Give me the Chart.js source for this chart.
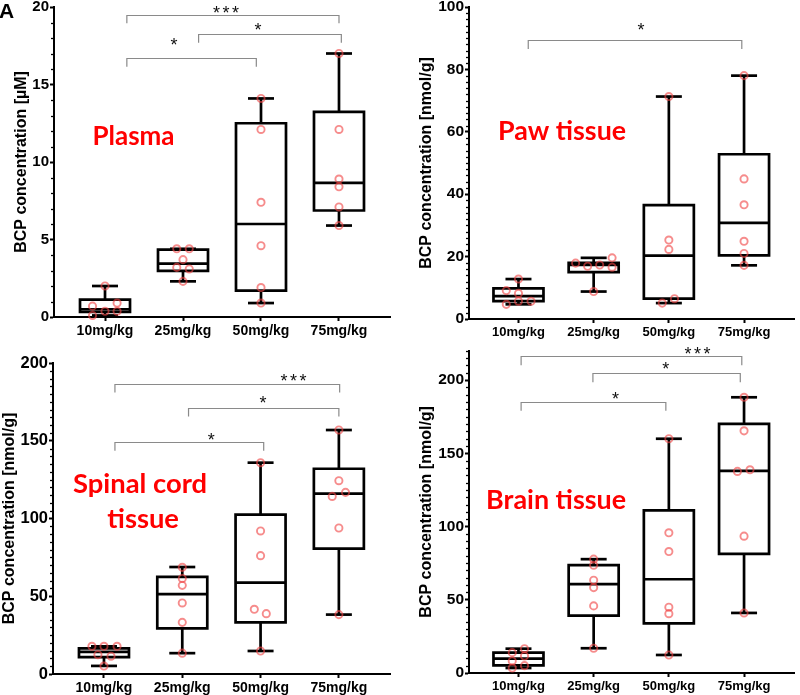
<!DOCTYPE html>
<html><head><meta charset="utf-8">
<script src="https://cdn.jsdelivr.net/npm/chart.js@4.4.0/dist/chart.umd.min.js"></script>
<style>
html,body{margin:0;padding:0;background:#fff;}
body{width:800px;height:695px;position:relative;overflow:hidden;}
canvas{position:absolute;display:block;}
</style></head><body>
<canvas id="cA" width="400" height="340" style="left:0;top:0"></canvas>
<canvas id="cB" width="400" height="340" style="left:400px;top:0"></canvas>
<canvas id="cC" width="400" height="355" style="left:0;top:340px"></canvas>
<canvas id="cD" width="400" height="355" style="left:400px;top:340px"></canvas>
<script>
// ---------------- DATA ----------------
const categories = ['10mg/kg', '25mg/kg', '50mg/kg', '75mg/kg'];

// box statistics per category: [min, Q1, median, Q3, max]
const plasmaBoxes = [[0.1,0.33,0.5,1.12,2.0],[2.3,2.97,3.44,4.35,4.4],[0.9,1.7,6.0,12.5,14.1],[5.9,6.87,8.65,13.24,17.0]];
const pawBoxes    = [[4.7,5.7,7.3,9.8,12.8],[8.8,15.0,17.3,18.0,19.6],[5.1,6.5,20.3,36.5,71.3],[17.2,20.4,30.8,52.8,78.0]];
const spinalBoxes = [[5.2,10.8,14.2,16.5,17.8],[13.4,29.3,51.4,62.5,68.8],[14.8,33.2,58.8,102.5,135.9],[38.2,80.6,116.0,132.0,156.9]];
const brainBoxes  = [[3.4,5.2,9.8,13.9,16.6],[16.9,39.2,60.6,73.6,77.7],[12.3,33.9,64.0,111.0,159.9],[41.0,81.3,138.0,170.0,188.2]];

// individual values per category
const plasmaPoints = [[2.0,0.7,0.9,0.1,0.37,0.37],[4.4,4.4,3.7,3.2,3.1,2.3],[14.1,12.1,7.4,4.6,1.9,0.9],[17.0,12.1,8.9,8.4,7.1,5.9]];
const pawPoints    = [[12.8,9.1,8.2,4.7,5.7,5.7],[17.9,16.9,17.3,19.6,16.6,8.8],[71.3,25.3,22.3,6.5,5.1],[78.0,44.9,36.6,24.9,21.0,17.2]];
const spinalPoints = [[17.8,17.8,17.8,12.4,11.4,5.1],[68.6,61.4,57.0,45.7,33.2,13.4],[135.9,92.0,76.1,41.6,38.8,14.8],[156.9,124.3,114.2,116.8,93.9,38.2]];
const brainPoints  = [[13.9,16.6,8.2,11.6,3.4,5.0],[77.7,73.6,63.3,58.3,45.8,16.9],[159.9,95.7,82.9,44.9,40.5,12.3],[188.2,165.3,137.6,138.7,93.4,41.0]];

// significance labels
const plasmaSig = ['***', '*', '*'];
const pawSig    = ['*'];
const spinalSig = ['***', '*', '*'];
const brainSig  = ['***', '*', '*'];

// ---------------- LAYOUT (annotation placement, in axis units) ----------------
// horizontal spread of dots (category units)
const plasmaJitter = [[0,-0.16,0.155,-0.16,0,0.155],[-0.08,0.08,0,-0.08,0.08,0],[0,0,0,0,0,0],[0,0,0,0,0,0]];
const pawJitter    = [[0,-0.162,0,-0.162,0,0.167],[-0.24,-0.08,0.08,0.245,0.245,0],[0,0,0,0.075,-0.088],[0,0,0,0,0,0]];
const spinalJitter = [[-0.154,0,0.167,-0.077,0.09,0],[0,0,0,0,0,0],[0,0,0,-0.08,0.073,0],[0,0,-0.085,0.085,0,0]];
const brainJitter  = [[-0.083,0.08,-0.083,0.08,-0.083,0.08],[0,0,0,0,0,0],[0,0,0,0,0,0],[0,0,-0.088,0.079,0,0]];
// bracket: [x1, x2, yLine, yTickEnd]; star: [x, yCenter]
const plasmaBrk = [[0.28,3.0,19.5,18.95],[1.2,3.03,18.26,17.7],[0.28,1.94,16.7,16.15]];
const plasmaStar = [[1.55,19.85],[1.96,18.71],[0.885,17.8]];
const pawBrk = [[0.13,2.97,89.4,86.5]];
const pawStar = [[1.63,93.8]];
const spinalBrk = [[0.14,3.01,186.7,181],[1.08,3.0,171,165.6],[0.14,2.04,149,143.6]];
const spinalStar = [[2.42,190.7],[2.03,176.4],[1.37,152.8]];
const brainBrk = [[0.035,2.97,216.5,210],[0.99,2.95,205,198.5],[0.035,1.96,185,179]];
const brainStar = [[2.38,220.4],[1.96,209.6],[1.29,189.1]];

const AX_FONT = "'Liberation Sans', Arial, Helvetica, sans-serif";
const LBL_FONT = "Lato, 'Open Sans', sans-serif";
const BOX_W = 50, CAP_W = 26, BOX_LW = 2.7;
const DOT_COLOR = 'rgba(240,70,70,0.62)';

const panels = [
  {id:'cA', boxes:plasmaBoxes, points:plasmaPoints, jitter:plasmaJitter, sig:plasmaSig, brk:plasmaBrk, star:plasmaStar,
   yMax:20, yStep:5, yMinor:1, yW:54, padR:10, padT:7, xH:23, tickSize:15, xSize:14, titlePad:11.6,
   title:'BCP concentration [µM]', xMin:-0.654, xMax:3.654,
   labels:[{lines:['Plasma'], x:0.365, y:11.1, w:82, lh:0}], panelLetter:true},
  {id:'cB', boxes:pawBoxes, points:pawPoints, jitter:pawJitter, sig:pawSig, brk:pawBrk, star:pawStar,
   yMax:100, yStep:20, yMinor:2, yW:69, padR:2, padT:7, xH:21, tickSize:15.5, xSize:13, titlePad:16.6,
   title:'BCP concentration [nmol/g]', xMin:-0.658, xMax:3.671,
   labels:[{lines:['Paw tissue'], x:0.58, y:57.5, w:128, lh:0}]},
  {id:'cC', boxes:spinalBoxes, points:spinalPoints, jitter:spinalJitter, sig:spinalSig, brk:spinalBrk, star:spinalStar,
   yMax:200, yStep:50, yMinor:5, yW:53, padR:10, padT:23, xH:21, tickSize:16.5, xSize:14, titlePad:0,
   title:'BCP concentration [nmol/g]', xMin:-0.651, xMax:3.653,
   labels:[{lines:['Spinal cord','tissue'], x:0.46, x2:0.5, y:116.4, y2:93.9, w:134}]},
  {id:'cD', boxes:brainBoxes, points:brainPoints, jitter:brainJitter, sig:brainSig, brk:brainBrk, star:brainStar,
   yMax:220, yStep:50, yMinor:5, yW:69, padR:2, padT:10.7, xH:22, tickSize:15.5, xSize:13, titlePad:17,
   title:'BCP concentration [nmol/g]', xMin:-0.658, xMax:3.671,
   labels:[{lines:['Brain tissue'], x:0.5, y:111.7, w:140}]}
];

function seg(ctx,x1,y1,x2,y2){ctx.beginPath();ctx.moveTo(x1,y1);ctx.lineTo(x2,y2);ctx.stroke();}

function makePlugin(p){
  return {
    id:'box_'+p.id,
    beforeDatasetsDraw(chart){
      const {ctx, scales:{x,y}} = chart;
      ctx.save();
      // minor ticks on y axis
      ctx.strokeStyle='#000'; ctx.lineWidth=1.3;
      const ax = chart.chartArea.left;
      for(let v=p.yMinor; v<p.yMax+1e-9; v+=p.yMinor){
        const r = v/p.yStep; if(Math.abs(r-Math.round(r))<1e-6) continue;
        const py = Math.round(y.getPixelForValue(v))+0.5;
        seg(ctx, ax-3, py, ax, py);
      }
      // boxes
      ctx.strokeStyle='#000'; ctx.lineWidth=BOX_LW; ctx.lineCap='butt';
      p.boxes.forEach((b,i)=>{
        const cx = x.getPixelForValue(i);
        const [mn,q1,md,q3,mx] = b.map(v=>y.getPixelForValue(v));
        const hw = BOX_W/2, cw = CAP_W/2;
        seg(ctx,cx,q3,cx,mx); seg(ctx,cx-cw,mx,cx+cw,mx);
        seg(ctx,cx,q1,cx,mn); seg(ctx,cx-cw,mn,cx+cw,mn);
        ctx.beginPath(); ctx.rect(cx-hw,q3,2*hw,q1-q3); ctx.stroke();
        seg(ctx,cx-hw,md,cx+hw,md);
      });
      ctx.restore();
    },
    afterDraw(chart){
      const {ctx, scales:{x,y}} = chart;
      ctx.save();
      // brackets
      ctx.strokeStyle='#8a8a8a'; ctx.lineWidth=1.2;
      p.brk.forEach(b=>{
        const x1=x.getPixelForValue(b[0]), x2=x.getPixelForValue(b[1]);
        const yl=Math.round(y.getPixelForValue(b[2]))+0.5, yt=y.getPixelForValue(b[3]);
        ctx.beginPath(); ctx.moveTo(x1,yt); ctx.lineTo(x1,yl); ctx.lineTo(x2,yl); ctx.lineTo(x2,yt); ctx.stroke();
      });
      // stars
      ctx.fillStyle='#111'; ctx.font='18px '+AX_FONT; ctx.textAlign='center'; ctx.textBaseline='alphabetic';
      const m = ctx.measureText('*');
      const off = (m.actualBoundingBoxAscent - m.actualBoundingBoxDescent)/2;
      p.sig.forEach((s,k)=>{
        const cx=x.getPixelForValue(p.star[k][0]), cy=y.getPixelForValue(p.star[k][1]);
        const n=s.length, gap=9.5;
        for(let j=0;j<n;j++){ ctx.fillText('*', cx+(j-(n-1)/2)*gap, cy+off); }
      });
      // red tissue labels
      ctx.fillStyle='#ff0000'; ctx.textAlign='center';
      p.labels.forEach(L=>{
        ctx.font='bold 100px '+LBL_FONT;
        const size = 100*L.w/ctx.measureText(L.lines[0]).width;
        ctx.font='bold '+size.toFixed(2)+'px '+LBL_FONT;
        ctx.fillText(L.lines[0], x.getPixelForValue(L.x), y.getPixelForValue(L.y));
        if(L.lines[1]) ctx.fillText(L.lines[1], x.getPixelForValue(L.x2), y.getPixelForValue(L.y2));
      });
      if(p.panelLetter){
        ctx.fillStyle='#000'; ctx.textAlign='left'; ctx.font='bold 21px '+AX_FONT;
        ctx.fillText('A', -1, 18);
      }
      ctx.restore();
    }
  };
}

panels.forEach(p=>{
  const data = [];
  p.points.forEach((arr,i)=>arr.forEach((v,j)=>data.push({x:i+p.jitter[i][j], y:v})));
  const tickGrid = {display:true, drawOnChartArea:false, drawTicks:true, tickLength:4, tickWidth:2, tickColor:'#000', color:'#000'};
  new Chart(document.getElementById(p.id), {
    type:'scatter',
    data:{datasets:[{data, pointRadius:3.6, pointHoverRadius:3.6, pointBorderWidth:1.9,
      pointBorderColor:DOT_COLOR, pointBackgroundColor:'rgba(0,0,0,0)', showLine:false, clip:false}]},
    options:{
      responsive:false, animation:false, devicePixelRatio:1,
      layout:{padding:{left:0, right:p.padR, top:p.padT, bottom:0}},
      plugins:{legend:{display:false}, tooltip:{enabled:false}},
      events:[],
      scales:{
        x:{type:'linear', min:p.xMin, max:p.xMax,
          afterBuildTicks:s=>{ s.ticks = categories.map((c,i)=>({value:i})); },
          ticks:{callback:v=>categories[v], color:'#000', padding:2, maxRotation:0, autoSkip:false,
                 font:{family:AX_FONT, size:p.xSize, weight:'bold'}},
          grid:tickGrid, border:{display:true, color:'#000', width:2},
          afterFit:s=>{ s.height=p.xH; s.paddingLeft=0; s.paddingRight=0; }
        },
        y:{type:'linear', min:0, max:p.yMax,
          ticks:{stepSize:p.yStep, includeBounds:false, color:'#000', padding:1,
                 font:{family:AX_FONT, size:p.tickSize, weight:'bold', lineHeight:1}},
          grid:tickGrid, border:{display:true, color:'#000', width:2},
          title:{display:true, text:p.title, color:'#000', padding:{top:p.titlePad, bottom:0},
                 font:{family:AX_FONT, size:16, weight:'bold'}},
          afterFit:s=>{ s.width=p.yW; s.paddingTop=0; s.paddingBottom=0; }
        }
      }
    },
    plugins:[makePlugin(p)]
  });
});
</script>
</body></html>
